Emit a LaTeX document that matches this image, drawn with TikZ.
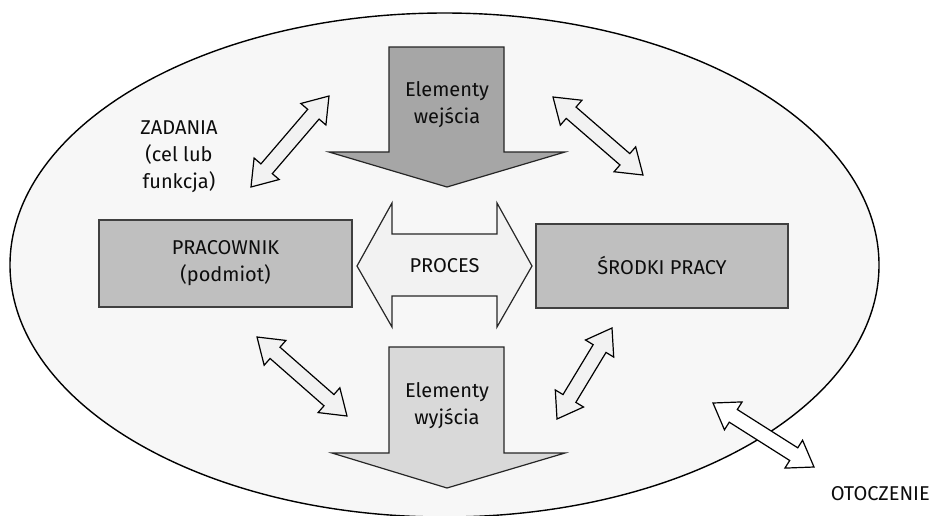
\documentclass[tikz,border=0pt]{standalone}
\usepackage{fontspec}
\setmainfont{Fira Sans}
\usetikzlibrary{calc}

\definecolor{envfill}{HTML}{F7F7F7}
\definecolor{infill}{HTML}{A6A6A6}
\definecolor{outfill}{HTML}{D9D9D9}
\definecolor{boxfill}{HTML}{BFBFBF}
\definecolor{lightfill}{HTML}{F2F2F2}
\definecolor{txt}{HTML}{0D0D0D}

% two-headed block arrow between two named points
\newcommand\blockarrow[3][lightfill]{%
  \coordinate (#2h) at ($(#2)!24pt!(#3)$);
  \coordinate (#3h) at ($(#3)!24pt!(#2)$);
  \draw[smallarrow, fill=#1] (#2)
    -- ($(#2h)!16.5pt!90:(#3)$) -- ($(#2h)!7.5pt!90:(#3)$)
    -- ($(#3h)!7.5pt!-90:(#2)$) -- ($(#3h)!16.5pt!-90:(#2)$)
    -- (#3)
    -- ($(#3h)!16.5pt!90:(#2)$) -- ($(#3h)!7.5pt!90:(#2)$)
    -- ($(#2h)!7.5pt!-90:(#3)$) -- ($(#2h)!16.5pt!-90:(#3)$)
    -- cycle;}

\begin{document}
\begin{tikzpicture}[x=1pt,y=-1pt,
  lbl/.style={font=\fontsize{20}{27}\selectfont, text=txt, align=center},
  smallarrow/.style={draw=black, line width=1.2pt, line join=miter},
  bigarrow/.style={draw=black!85, line width=1.2pt, line join=miter},
  unitbox/.style={draw=black!75, line width=1.2pt, fill=boxfill}]
\useasboundingbox (0,0) rectangle (931,515);
\clip (0,0) rectangle (931,515);
\fill[white] (0,0) rectangle (931,515);

% environment
\draw[fill=envfill, line width=1.4pt] (444.5,265) ellipse [x radius=434.5, y radius=252];

% input elements (down arrow)
\draw[bigarrow, fill=infill] (389,47) -- (504,47) -- (504,152) -- (565,152)
  -- (447,187) -- (329,152) -- (389,152) -- cycle;
\node[lbl] (wej) at (447,105) {Elementy\\wejścia};

% output elements (down arrow)
\draw[bigarrow, fill=outfill] (389,347) -- (504,347) -- (504,453) -- (565,453)
  -- (447,488) -- (332,453) -- (389,453) -- cycle;
\node[lbl] (wyj) at (447,406) {Elementy\\wyjścia};

% process (double arrow)
\draw[bigarrow, fill=lightfill] (357,266) -- (392,203) -- (392,234) -- (497,234)
  -- (497,203) -- (532,266) -- (497,327) -- (497,296) -- (392,296) -- (392,327) -- cycle;
\node[lbl] (proc) at (444.5,266) {PROCES};

% worker and means of work
\node[unitbox, lbl, minimum width=253, minimum height=87] (prac) at (225.5,263.5)
  {PRACOWNIK\\(podmiot)};
\node[unitbox, lbl, minimum width=252, minimum height=84] (srod) at (662,266)
  {ŚRODKI PRACY};

% tasks and surroundings
\node[lbl] (zad) at (179,157) {ZADANIA\\(cel lub\\funkcja)};
\node[lbl, anchor=east, inner sep=1pt] (oto) at (931,494) {OTOCZENIE};

% interaction arrows
\coordinate (a1) at (251,187);  \coordinate (b1) at (329,96);
\coordinate (a2) at (553,97);   \coordinate (b2) at (643,175);
\coordinate (a3) at (257,337);  \coordinate (b3) at (347,416);
\coordinate (a4) at (557,419);  \coordinate (b4) at (612,328);
\coordinate (a5) at (713,403);  \coordinate (b5) at (814,467);
\blockarrow{a1}{b1}
\blockarrow{a2}{b2}
\blockarrow{a3}{b3}
\blockarrow{a4}{b4}
\blockarrow[white]{a5}{b5}
\end{tikzpicture}
\end{document}
